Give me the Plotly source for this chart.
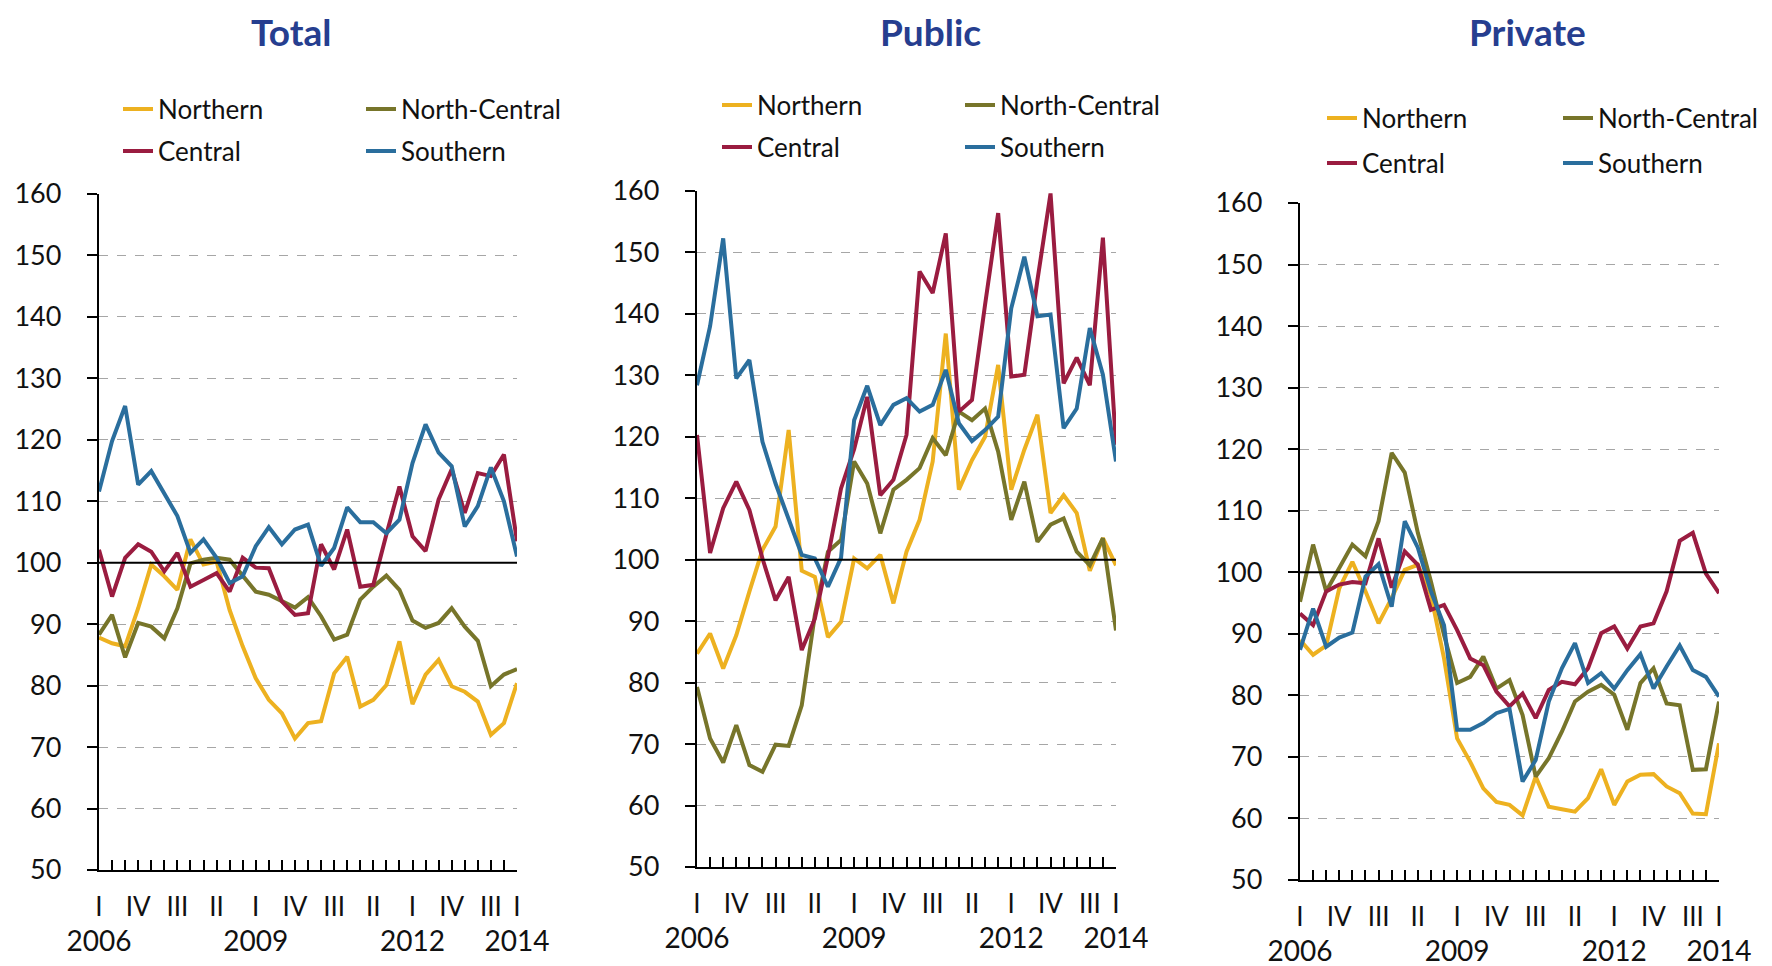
import plotly.graph_objects as go

# ---------------- data ----------------
quarters = list(range(33))  # 2006Q1 .. 2014Q1
roman_vals = [0, 3, 6, 9, 12, 15, 18, 21, 24, 27, 30, 32]
roman_text = ["I", "IV", "III", "II", "I", "IV", "III", "II", "I", "IV", "III", "I"]
year_vals = [0, 12, 24, 32]
year_text = ["2006", "2009", "2012", "2014"]
regions = ["Northern", "North-Central", "Central", "Southern"]
panel_titles = ["Total", "Public", "Private"]

total_northern = [87.8, 86.9, 86.4, 92.6, 99.7, 97.8, 95.6, 103.8, 99.7, 100.2, 92.3, 86.4, 81.2, 77.7, 75.5, 71.4,
                  73.9, 74.2, 82.0, 84.7, 76.6, 77.7, 80.1, 87.2, 77.0, 81.8, 84.2, 79.9, 79.0, 77.4, 72.0, 73.9, 80.4]
total_north_central = [88.3, 91.5, 84.6, 90.2, 89.6, 87.7, 92.6, 99.9, 100.5, 100.8, 100.5, 98.0, 95.3, 94.8, 93.7,
                       92.7, 94.4, 91.3, 87.5, 88.3, 94.0, 96.1, 97.9, 95.6, 90.6, 89.4, 90.2, 92.6, 89.6, 87.3, 79.9,
                       81.8, 82.7]
total_central = [102.1, 94.5, 100.8, 103.0, 101.8, 98.6, 101.6, 96.1, 97.2, 98.3, 95.3, 100.8, 99.2, 99.1, 93.7, 91.5,
                 91.8, 103.0, 98.9, 105.4, 96.1, 96.4, 104.6, 112.4, 104.3, 101.9, 110.3, 115.2, 108.1, 114.6, 114.1,
                 117.6, 103.5]
total_southern = [111.6, 119.8, 125.5, 112.7, 114.9, 111.1, 107.6, 101.6, 103.8, 100.8, 96.7, 97.8, 102.7, 105.8, 103.0,
                  105.4, 106.2, 99.5, 102.4, 109.0, 106.6, 106.6, 104.8, 107.0, 116.2, 122.5, 117.9, 115.7, 105.9,
                  109.2, 115.5, 110.0, 101.0]

public_northern = [84.7, 88.0, 82.3, 87.7, 94.8, 101.6, 105.4, 121.1, 98.2, 97.2, 87.4, 89.9, 100.2, 98.6, 100.8, 92.9,
                   101.3, 106.5, 116.0, 136.8, 111.4, 116.2, 120.0, 131.7, 111.4, 117.9, 123.6, 107.6, 110.5, 107.6,
                   98.2, 103.5, 99.1]
public_north_central = [79.3, 70.9, 67.0, 73.1, 66.6, 65.5, 69.9, 69.7, 76.3, 91.0, 101.3, 103.2, 116.0, 112.4, 104.3,
                        111.4, 113.0, 114.9, 119.8, 117.0, 124.1, 122.7, 124.6, 117.6, 106.5, 112.7, 102.9, 105.7,
                        106.7, 101.3, 99.1, 103.5, 88.5]
public_central = [120.3, 101.1, 108.4, 112.7, 108.1, 100.2, 93.4, 97.2, 85.3, 90.4, 100.5, 111.6, 118.0, 126.5, 110.5,
                  113.0, 120.3, 146.9, 143.4, 153.1, 124.1, 126.0, 141.5, 156.4, 129.8, 130.1, 145.5, 159.6, 128.7,
                  132.9, 128.4, 152.4, 118.7]
public_southern = [128.4, 138.0, 152.3, 129.5, 132.5, 119.2, 112.4, 106.7, 100.8, 100.2, 95.6, 100.3, 122.7, 128.3,
                   121.9, 125.2, 126.3, 124.1, 125.2, 130.9, 122.2, 119.3, 121.1, 123.3, 140.9, 149.3, 139.6, 139.9,
                   121.4, 124.6, 137.7, 130.1, 116.0]

private_northern = [89.0, 86.6, 88.1, 97.4, 101.7, 96.9, 91.7, 95.8, 100.4, 101.2, 96.3, 86.0, 73.0, 69.2, 64.9, 62.7,
                    62.2, 60.5, 66.8, 61.9, 61.5, 61.1, 63.3, 68.0, 62.2, 66.0, 67.1, 67.2, 65.2, 64.1, 60.8, 60.7, 72.2]
private_north_central = [95.2, 104.5, 96.9, 100.6, 104.5, 102.6, 108.3, 119.4, 116.2, 106.4, 98.5, 89.8, 82.0, 83.0,
                         86.3, 81.1, 82.5, 76.8, 66.8, 69.8, 74.1, 79.0, 80.6, 81.7, 80.1, 74.4, 82.0, 84.4, 78.7,
                         78.4, 67.9, 68.0, 79.0]
private_central = [93.3, 91.4, 96.9, 98.0, 98.4, 98.2, 105.5, 97.5, 103.4, 101.2, 93.9, 94.7, 90.6, 86.0, 84.9, 80.6,
                   78.2, 80.3, 76.3, 80.9, 82.2, 81.8, 84.4, 90.1, 91.2, 87.6, 91.2, 91.7, 96.9, 105.1, 106.4, 99.8,
                   96.6]
private_southern = [87.4, 94.1, 87.9, 89.4, 90.2, 99.3, 101.3, 94.4, 108.3, 104.0, 96.9, 91.4, 74.4, 74.4, 75.5, 77.1,
                    77.8, 66.0, 69.5, 79.0, 84.4, 88.5, 82.0, 83.6, 81.1, 84.1, 86.7, 81.1, 84.7, 88.1, 84.1, 83.0,
                    79.8]

panel_series = [
    [total_northern, total_north_central, total_central, total_southern],
    [public_northern, public_north_central, public_central, public_southern],
    [private_northern, private_north_central, private_central, private_southern],
]

# ---------------- styling / layout ----------------
W, H = 1772, 966
FONT = "Lato"
colors = ["#EDB120", "#77752A", "#9A1C40", "#2A6E9D"]
title_color = "#263E8F"


def fx(p):
    return p / W


def fy(p):
    return 1 - p / H


# pixel geometry per panel: plot box, title center-x, legend text starts and row centers
geo = [
    dict(x0=91, x1=509, ytop=186, ybot=862, title=283, cols=(150, 393), rows=(101, 143)),
    dict(x0=689, x1=1108, ytop=183, ybot=859, title=923, cols=(749, 992), rows=(97, 139)),
    dict(x0=1292, x1=1711, ytop=195, ybot=872, title=1519, cols=(1354, 1590), rows=(110, 155)),
]

fig = go.Figure()
layout = dict(
    width=W, height=H,
    margin=dict(l=0, r=0, t=0, b=0, autoexpand=False),
    paper_bgcolor="white", plot_bgcolor="white",
    font=dict(family=FONT, size=26, color="#111111"),
    showlegend=True,
    annotations=[], shapes=[],
)

for p, g in enumerate(geo):
    sfx = "" if p == 0 else str(p + 1)
    xname, yname = "x" + sfx, "y" + sfx
    yrs_axis_n = p + 4
    for r, name in enumerate(regions):
        leg_n = p * 4 + r + 1
        leg_key = "legend" if leg_n == 1 else f"legend{leg_n}"
        fig.add_trace(go.Scatter(
            x=quarters, y=panel_series[p][r], mode="lines", name=name,
            line=dict(color=colors[r], width=4),
            xaxis=xname, yaxis=yname, legend=leg_key, hoverinfo="skip",
        ))
        col, row = r % 2, r // 2
        layout[leg_key] = dict(
            x=fx(g["cols"][col] - 40), y=fy(g["rows"][row]),
            xanchor="left", yanchor="middle", orientation="h",
            bgcolor="rgba(0,0,0,0)", borderwidth=0,
            font=dict(family=FONT, size=26, color="#111111"),
            itemwidth=30, tracegroupgap=0,
        )
    # invisible carrier for the year axis
    fig.add_trace(go.Scatter(
        x=year_vals, y=[100] * len(year_vals), mode="markers", marker=dict(opacity=0),
        xaxis=f"x{yrs_axis_n}", yaxis=yname, showlegend=False, hoverinfo="skip",
    ))

    xdom = [fx(g["x0"]), fx(g["x1"])]
    ydom = [fy(g["ybot"]), fy(g["ytop"])]
    layout["xaxis" + sfx] = dict(
        domain=xdom, anchor=yname, range=[0, 32], automargin=False,
        tickmode="array", tickvals=roman_vals, ticktext=roman_text,
        ticks="inside", ticklen=10, tickwidth=2, tickcolor="black",
        minor=dict(tickmode="linear", tick0=0, dtick=1, ticks="inside", ticklen=10, tickwidth=2,
                   tickcolor="black", showgrid=False),
        showline=True, linecolor="black", linewidth=2.3,
        showgrid=False, zeroline=False,
        tickfont=dict(family=FONT, size=26, color="#111111"),
        ticklabelstandoff=13,
    )
    layout[f"xaxis{yrs_axis_n}"] = dict(
        overlaying=xname, anchor=yname, side="bottom", range=[0, 32], automargin=False,
        tickmode="array", tickvals=year_vals, ticktext=year_text,
        ticks="", showline=False, showgrid=False, zeroline=False,
        tickfont=dict(family=FONT, size=28, color="#111111"),
        ticklabelstandoff=52,
    )
    layout["yaxis" + sfx] = dict(
        domain=ydom, anchor=xname, range=[50, 160], automargin=False,
        tickmode="linear", tick0=50, dtick=10,
        ticks="outside", ticklen=10, tickwidth=2, tickcolor="black",
        showline=True, linecolor="black", linewidth=2.3,
        showgrid=True, gridcolor="#A6A6A6", gridwidth=1, griddash="dash",
        zeroline=False,
        tickfont=dict(family=FONT, size=27, color="#111111"),
        ticklabelstandoff=20,
    )
    # baseline at 100
    layout["shapes"].append(dict(
        type="line", xref=f"{xname} domain", yref=yname, x0=0, x1=1, y0=100, y1=100,
        line=dict(color="black", width=2), layer="above",
    ))
    layout["annotations"].append(dict(
        text=f"<b>{panel_titles[p]}</b>", xref="paper", yref="paper",
        x=fx(g["title"]), y=1, xanchor="center", yanchor="top", borderpad=0,
        showarrow=False, font=dict(family=FONT, size=37, color=title_color),
    ))

fig.update_layout(**layout)
fig.write_html("out.html")
